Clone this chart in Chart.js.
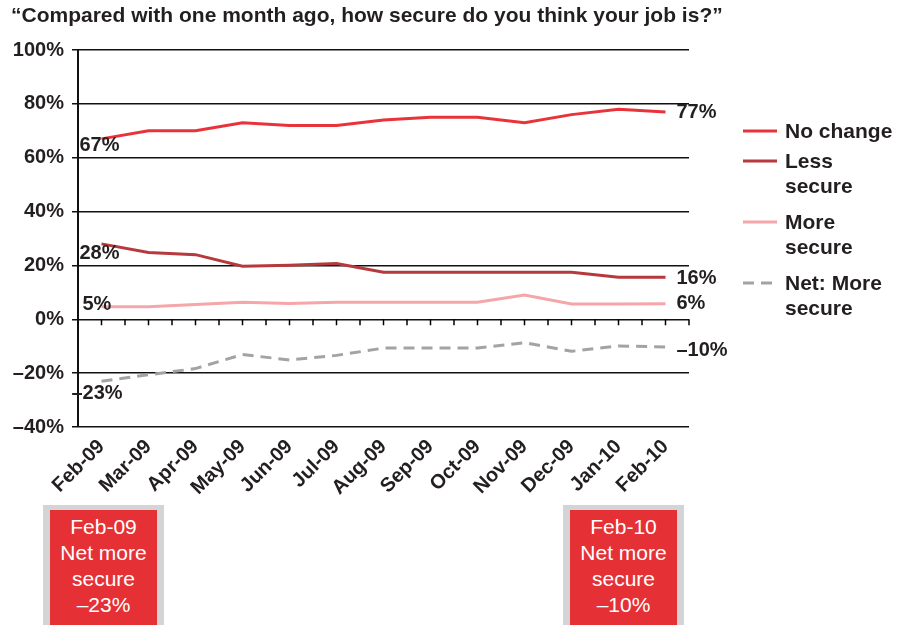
<!DOCTYPE html>
<html>
<head>
<meta charset="utf-8">
<script src="https://cdn.jsdelivr.net/npm/chart.js@4.4.1/dist/chart.umd.min.js"></script>
<style>
  html, body { margin: 0; padding: 0; background: #fff; }
  #wrap { position: relative; width: 902px; height: 625px; overflow: hidden; }
  canvas { position: absolute; left: 0; top: 0; }
  .box { position: absolute; top: 505px; width: 107px; height: 114px; background: #e53036;
         border: 7px solid #d3d4d6; border-bottom: none; border-top-width: 5px;
         color: #fff; font-family: "Liberation Sans", Arial, sans-serif; font-size: 21px;
         line-height: 26px; text-align: center; padding-top: 4px; }
</style>
</head>
<body>
<div id="wrap">
  <canvas id="c" width="902" height="625"></canvas>
  <div class="box" id="box1" style="left:43px;"></div>
  <div class="box" id="box2" style="left:563px;"></div>
</div>
<script>
const titleText = "\u201cCompared with one month ago, how secure do you think your job is?\u201d";
const months = ["Feb-09","Mar-09","Apr-09","May-09","Jun-09","Jul-09","Aug-09","Sep-09","Oct-09","Nov-09","Dec-09","Jan-10","Feb-10"];
const noChange   = [67, 70, 70, 73, 72, 72, 74, 75, 75, 73, 76, 78, 77];
const lessSecure = [28, 24.8, 24, 19.7, 20.1, 20.7, 17.5, 17.5, 17.5, 17.5, 17.5, 15.6, 15.6];
const moreSecure = [4.7, 4.7, 5.5, 6.3, 5.9, 6.3, 6.3, 6.3, 6.3, 9, 5.7, 5.7, 5.8];
const netMore    = [-23, -20.6, -18.3, -13.1, -15.1, -13.4, -10.7, -10.7, -10.7, -8.7, -11.9, -9.9, -10.3];
const seriesNames = [["No change"], ["Less", "secure"], ["More", "secure"], ["Net: More", "secure"]];
const startLabels = ["67%", "28%", "5%", "\u201323%"];
const endLabels   = ["77%", "16%", "6%", "\u201310%"];
const yTicks = [-40, -20, 0, 20, 40, 60, 80, 100];
const boxTexts = [["Feb-09", "Net more", "secure", "\u201323%"], ["Feb-10", "Net more", "secure", "\u201310%"]];

document.getElementById('box1').innerHTML = boxTexts[0].join('<br>');
document.getElementById('box2').innerHTML = boxTexts[1].join('<br>');

const FONT = '"Liberation Sans", Arial, sans-serif';
const TXT = '#231f20';
const colors = ['#e8333a', '#b5393d', '#f4a6a9', '#a3a3a3'];

const customPlugin = {
  id: 'custom',
  afterDraw(chart) {
    const ctx = chart.ctx;
    const x = chart.scales.x, y = chart.scales.y;
    ctx.save();
    // title
    ctx.fillStyle = TXT;
    ctx.font = 'bold 21px ' + FONT;
    ctx.textAlign = 'left';
    ctx.textBaseline = 'alphabetic';
    ctx.fillText(titleText, 11, 22);
    // tick marks on zero line
    const y0 = y.getPixelForValue(0);
    ctx.strokeStyle = '#000';
    ctx.lineWidth = 1.5;
    for (let i = 0; i < months.length; i++) {
      const xs = [x.getPixelForValue(i), x.getPixelForValue(i) + (x.getPixelForValue(1) - x.getPixelForValue(0)) / 2];
      xs.forEach(px => {
        ctx.beginPath(); ctx.moveTo(px, y0); ctx.lineTo(px, y0 + 6); ctx.stroke();
      });
    }
    // data labels
    ctx.font = 'bold 20px ' + FONT;
    ctx.textBaseline = 'middle';
    const startOff = [[-22, 7], [-22, 10], [-19, -2], [-30, 12]];
    const endOff = [[11, 1], [11, 1], [11, 0], [11, 3]];
    chart.data.datasets.forEach((ds, i) => {
      const n = ds.data.length;
      const px0 = x.getPixelForValue(0), py0 = y.getPixelForValue(ds.data[0]);
      const pxN = x.getPixelForValue(n - 1), pyN = y.getPixelForValue(ds.data[n - 1]);
      ctx.textAlign = 'left';
      ctx.fillText(startLabels[i], px0 + startOff[i][0], py0 + startOff[i][1]);
      ctx.fillText(endLabels[i], pxN + endOff[i][0], pyN + endOff[i][1]);
    });
    // legend
    const legY = [131, 161, 222, 283];
    ctx.font = 'bold 21px ' + FONT;
    chart.data.datasets.forEach((ds, i) => {
      const ly = legY[i];
      ctx.strokeStyle = ds.borderColor;
      ctx.lineWidth = 3;
      ctx.setLineDash(ds.borderDash || []);
      ctx.beginPath(); ctx.moveTo(743, ly); ctx.lineTo(777, ly); ctx.stroke();
      ctx.setLineDash([]);
      ctx.fillStyle = TXT;
      ctx.textAlign = 'left';
      seriesNames[i].forEach((t, k) => ctx.fillText(t, 785, ly + 1 + k * 25.5));
    });
    ctx.restore();
  }
};

new Chart(document.getElementById('c'), {
  type: 'line',
  data: {
    labels: months,
    datasets: [
      { label: 'No change', data: noChange, borderColor: colors[0], borderWidth: 3 },
      { label: 'Less secure', data: lessSecure, borderColor: colors[1], borderWidth: 3 },
      { label: 'More secure', data: moreSecure, borderColor: colors[2], borderWidth: 3 },
      { label: 'Net: More secure', data: netMore, borderColor: colors[3], borderWidth: 3, borderDash: [11, 7] }
    ]
  },
  options: {
    responsive: false,
    animation: false,
    events: [],
    elements: { point: { radius: 0 }, line: { tension: 0 } },
    layout: { padding: { left: 0, right: 213, top: 50, bottom: 0 } },
    plugins: { legend: { display: false }, title: { display: false }, tooltip: { enabled: false } },
    scales: {
      x: {
        offset: true,
        grid: { display: false, offset: true },
        border: { display: false },
        ticks: {
          minRotation: 45, maxRotation: 45, autoSkip: false, padding: 0,
          color: TXT, font: { family: FONT, size: 20, weight: 'bold' }
        },
        afterFit(s) { s.height = 198; }
      },
      y: {
        min: -40, max: 100,
        afterBuildTicks(s) { s.ticks = yTicks.map(v => ({ value: v })); },
        grid: { color: '#111', lineWidth: 1.5, tickLength: 6, drawTicks: true },
        border: { display: true, color: '#111', width: 2 },
        ticks: {
          padding: 8, color: TXT, font: { family: FONT, size: 20, weight: 'bold' },
          callback: v => (v < 0 ? '\u2013' + Math.abs(v) : v) + '%'
        },
        afterFit(s) { s.width = 78; }
      }
    }
  },
  plugins: [customPlugin]
});
</script>
</body>
</html>
